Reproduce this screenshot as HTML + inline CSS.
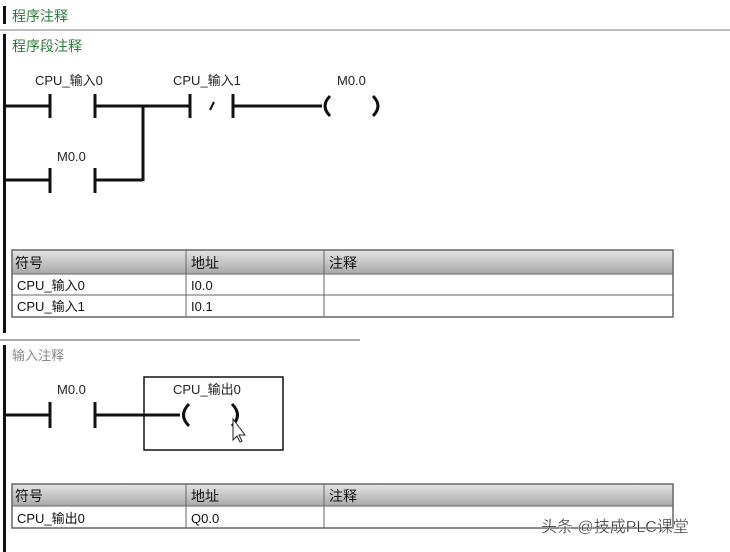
<!DOCTYPE html>
<html><head><meta charset="utf-8"><style>
html,body{margin:0;padding:0;background:#fff;}
svg{display:block;}
text{font-family:"Liberation Sans","Noto Sans CJK SC",sans-serif;}
</style></head><body>
<svg width="730" height="552" viewBox="0 0 730 552" xmlns="http://www.w3.org/2000/svg">
<defs>
<linearGradient id="hg" x1="0" y1="0" x2="0" y2="1">
<stop offset="0" stop-color="#e4e4e4"/><stop offset="1" stop-color="#a8a8a8"/>
</linearGradient>
</defs>
<rect width="730" height="552" fill="#fff"/>
<!-- top -->
<rect x="3" y="6" width="3" height="18" fill="#111"/>
<text x="12" y="21" font-size="14" fill="#2c7a3a">程序注释</text>
<line x1="0" y1="30" x2="730" y2="30" stroke="#bbb" stroke-width="2"/>
<rect x="3" y="34" width="3" height="299" fill="#111"/>
<text x="12" y="51" font-size="14" fill="#2c7a3a">程序段注释</text>
<g stroke="#111" stroke-width="3" fill="none">
<!-- rung 1 -->
<line x1="4" y1="106" x2="50" y2="106"/>
<line x1="50" y1="94" x2="50" y2="118"/>
<line x1="95" y1="94" x2="95" y2="118"/>
<line x1="95" y1="106" x2="190" y2="106"/>
<line x1="190" y1="94" x2="190" y2="118"/>
<line x1="233" y1="94" x2="233" y2="118"/>
<line x1="210" y1="110" x2="214" y2="102" stroke-width="2"/>
<line x1="233" y1="106" x2="322" y2="106"/>
<path d="M330 96 Q320 106 330 116"/>
<path d="M373 96 Q383 106 373 116"/>
<line x1="143" y1="106" x2="143" y2="181"/>
<line x1="4" y1="180" x2="50" y2="180"/>
<line x1="50" y1="168" x2="50" y2="193"/>
<line x1="95" y1="168" x2="95" y2="193"/>
<line x1="95" y1="180" x2="143" y2="180"/>
</g>
<g font-size="13" fill="#222">
<text x="35" y="85">CPU_输入0</text>
<text x="173" y="85">CPU_输入1</text>
<text x="337" y="85">M0.0</text>
<text x="57" y="161">M0.0</text>
</g>
<!-- table 1 -->
<g>
<rect x="12" y="250" width="661" height="24" fill="url(#hg)"/>
<rect x="12" y="250" width="661" height="67" fill="none" stroke="#666" stroke-width="1.5"/>
<line x1="12" y1="274" x2="673" y2="274" stroke="#666"/>
<line x1="12" y1="295" x2="673" y2="295" stroke="#666"/>
<line x1="186" y1="250" x2="186" y2="317" stroke="#666"/>
<line x1="324" y1="250" x2="324" y2="317" stroke="#666"/>
<g font-size="14" fill="#111">
<text x="15" y="268">符号</text><text x="191" y="268">地址</text><text x="329" y="268">注释</text>
<text x="17" y="290" font-size="13">CPU_输入0</text><text x="191" y="290" font-size="13">I0.0</text>
<text x="17" y="311" font-size="13">CPU_输入1</text><text x="191" y="311" font-size="13">I0.1</text>
</g>
</g>
<line x1="0" y1="340" x2="360" y2="340" stroke="#aaa" stroke-width="2"/>
<rect x="3" y="345" width="3" height="207" fill="#111"/>
<text x="12" y="360" font-size="13" fill="#888">输入注释</text>
<!-- rung 2 -->
<rect x="144" y="377" width="139" height="73" fill="none" stroke="#111" stroke-width="1.5"/>
<g stroke="#111" stroke-width="3" fill="none">
<line x1="4" y1="415" x2="50" y2="415"/>
<line x1="50" y1="402" x2="50" y2="428"/>
<line x1="95" y1="402" x2="95" y2="428"/>
<line x1="95" y1="415" x2="180" y2="415"/>
<path d="M189 404 Q178 415 189 426"/>
<path d="M232 404 Q243 415 232 426"/>
</g>
<path d="M233 419 L233 440 L237 436 L240 442 L242 441 L239 435 L245 435 Z" fill="#fff" stroke="#222" stroke-width="1"/>
<g font-size="13" fill="#222">
<text x="57" y="394">M0.0</text>
<text x="173" y="394">CPU_输出0</text>
</g>
<!-- table 2 -->
<g>
<rect x="12" y="484" width="661" height="22" fill="url(#hg)"/>
<rect x="12" y="484" width="661" height="44" fill="none" stroke="#666" stroke-width="1.5"/>
<line x1="12" y1="506" x2="673" y2="506" stroke="#666"/>
<line x1="186" y1="484" x2="186" y2="528" stroke="#666"/>
<line x1="324" y1="484" x2="324" y2="528" stroke="#666"/>
<g font-size="14" fill="#111">
<text x="15" y="501">符号</text><text x="191" y="501">地址</text><text x="329" y="501">注释</text>
<text x="17" y="523" font-size="13">CPU_输出0</text><text x="191" y="523" font-size="13">Q0.0</text>
</g>
</g>
<text x="541" y="532" font-size="16" fill="#333" stroke="#fff" stroke-width="0.3">头条 @技成PLC课堂</text>
</svg>
</body></html>
